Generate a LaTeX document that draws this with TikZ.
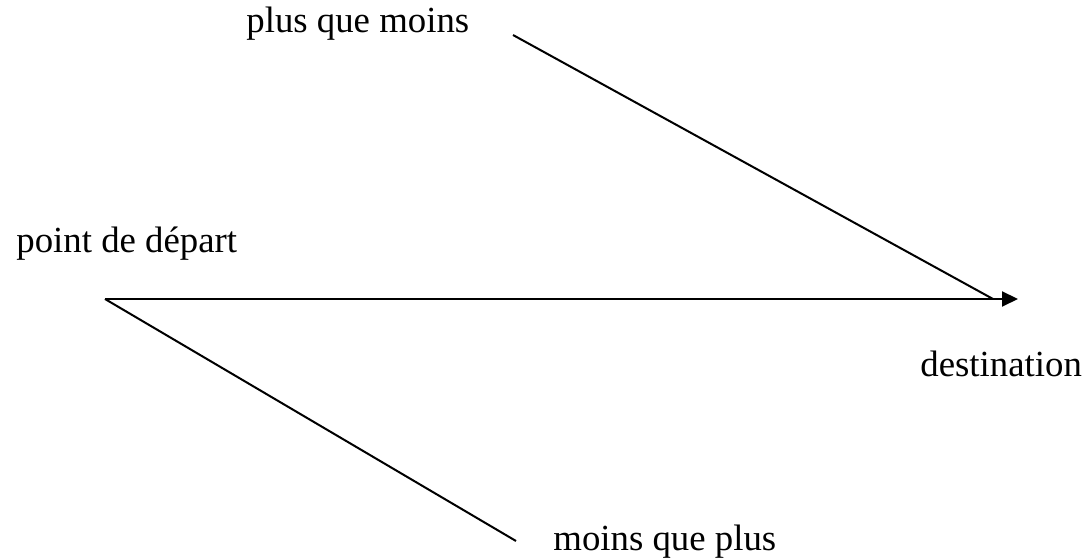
\documentclass[tikz,border=0pt]{standalone}
\usepackage{fontspec}
\setmainfont{Liberation Serif}
\usetikzlibrary{arrows.meta}

\begin{document}
\begin{tikzpicture}[
  x=0.5pt, y=-0.5pt,
  label/.style={font=\fontsize{18.4}{22}\selectfont, anchor=base west, inner sep=0pt},
  path/.style={line width=1pt},
  mainarrow/.style={-{Triangle[length=8pt, width=7.5pt]}, line width=1pt},
]

%% Frame (pixel grid, y downwards)
\useasboundingbox (0,0) rectangle (1087,560);

%% Labels
\node[label] (upper)  at (246,33)  {plus que moins};
\node[label] (depart) at (16,253)  {point de départ};
\node[label] (dest)   at (920,377) {destination};
\node[label] (lower)  at (553,551) {moins que plus};

%% Route end points
\coordinate (start) at (105,299);
\coordinate (tip)   at (1018,299);
\coordinate (join)  at (993,299);
\coordinate (top)   at (513,35);
\coordinate (bot)   at (516,541);

%% Direct route
\draw[mainarrow] (start) -- (tip);

%% Detours
\draw[path] (top) -- (join);
\draw[path] (start) -- (bot);

\end{tikzpicture}
\end{document}
